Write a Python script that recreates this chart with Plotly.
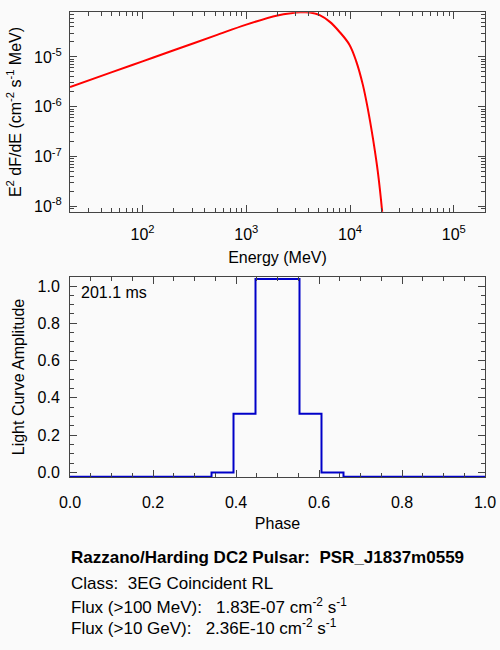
import plotly.graph_objects as go

# spectrum (MeV, MeV cm^-2 s^-1)
energy = [20, 50, 100, 200, 500, 1000, 2000, 2700, 3300, 4100, 5100,
          6350, 7900, 9900, 11500, 13300, 14800, 16600, 18500, 20400, 21500]
e2dfde = [2.48e-6, 4.9e-6, 8.15e-6, 1.36e-5, 2.67e-5, 4.45e-5, 6.8e-5,
          7.55e-5, 7.83e-5, 7.8e-5, 6.9e-5, 5.1e-5, 3.2e-5, 1.74e-5,
          8.05e-6, 2.75e-6, 9.4e-7, 2.37e-7, 5.1e-8, 8.0e-9, 2.2e-9]

energy_ticks = [1e2, 1e3, 1e4, 1e5]
energy_labels = ["10<sup>2</sup>", "10<sup>3</sup>", "10<sup>4</sup>", "10<sup>5</sup>"]
flux_ticks = [1e-8, 1e-7, 1e-6, 1e-5]
flux_labels = ["10<sup>-8</sup>", "10<sup>-7</sup>", "10<sup>-6</sup>", "10<sup>-5</sup>"]

# light curve steps (bin edges and levels)
phase = [0.0, 0.341, 0.394, 0.447, 0.553, 0.606, 0.659, 1.0]
amplitude = [-0.023, 0.0, 0.315, 1.037, 0.315, 0.0, -0.023, -0.023]

period_text = "201.1 ms"
info_lines = [
    "<b>Razzano/Harding DC2 Pulsar:\u00a0\u00a0PSR_J1837m0559</b>",
    "Class:\u00a0\u00a03EG Coincident RL",
    "Flux (>100 MeV):\u00a0\u00a0\u00a01.83E-07 cm<sup>-2</sup> s<sup>-1</sup>",
    "Flux (>10 GeV):\u00a0\u00a0\u00a02.36E-10 cm<sup>-2</sup> s<sup>-1</sup>",
]
info_y = [557, 583, 606, 627]

W, H = 500, 650
FONT = "Liberation Sans, Arial, Helvetica, sans-serif"
AX = "#444444"
BG = "#fafafa"

fig = go.Figure()

fig.add_trace(go.Scatter(x=energy, y=e2dfde, mode="lines",
                         line=dict(color="#ff0000", width=2, shape="spline"),
                         xaxis="x", yaxis="y", showlegend=False))
fig.add_trace(go.Scatter(x=phase, y=amplitude, mode="lines",
                         line=dict(color="#0000c8", width=2, shape="hv"),
                         xaxis="x2", yaxis="y2", showlegend=False))

common = dict(showline=True, linecolor=AX, linewidth=1, mirror="ticks",
              ticks="inside", tickcolor=AX, ticklen=7, showgrid=False,
              zeroline=False, automargin=False,
              tickfont=dict(size=16, color="black"),
              title_font=dict(size=16, color="black"))
minor_log = dict(ticks="inside", ticklen=4, tickcolor=AX, dtick="D1", showgrid=False)
minor_lin = dict(ticks="inside", ticklen=4, tickcolor=AX, dtick=0.05, showgrid=False)

fig.update_layout(
    width=W, height=H,
    margin=dict(l=0, r=0, t=0, b=0),
    paper_bgcolor=BG, plot_bgcolor=BG,
    font=dict(family=FONT, size=16, color="black"),
    xaxis=dict(common, domain=[70 / W, 485 / W], anchor="y", type="log",
               range=[1.301, 5.301], tickvals=energy_ticks,
               ticktext=energy_labels,
               minor=minor_log, ticklabelstandoff=8,
               title=dict(text="Energy (MeV)", standoff=9)),
    yaxis=dict(common, domain=[1 - 211.7 / H, 1 - 12.3 / H], anchor="x",
               type="log", range=[-8.105, -4.105], tickvals=flux_ticks,
               ticktext=flux_labels,
               minor=minor_log, ticklabelstandoff=4,
               title=dict(text="E<sup>2</sup> dF/dE (cm<sup>-2</sup> s<sup>-1</sup> MeV)",
                          standoff=8)),
    xaxis2=dict(common, domain=[70 / W, 485 / W], anchor="y2",
                range=[0, 1], dtick=0.2, tickformat=".1f",
                minor=minor_lin, ticklabelstandoff=10,
                title=dict(text="Phase", standoff=8)),
    yaxis2=dict(common, domain=[1 - 477.3 / H, 1 - 276.7 / H], anchor="x2",
                range=[-0.026, 1.05], dtick=0.2, tickformat=".1f",
                minor=minor_lin, ticklabelstandoff=6,
                title=dict(text="Light Curve Amplitude", standoff=8)),
)

fig.add_annotation(text=period_text, xref="paper", yref="paper",
                   x=79 / W, y=1 - 292 / H, xanchor="left", yanchor="middle",
                   showarrow=False, font=dict(size=16))

for line, yy in zip(info_lines, info_y):
    fig.add_annotation(text=line, xref="paper", yref="paper",
                       x=69 / W, y=1 - yy / H, xanchor="left", yanchor="middle",
                       showarrow=False, font=dict(size=17), align="left")

# the page has a default 8px body margin; drop it so the figure fills the window
fig.write_html("out.html", config={"displayModeBar": False},
               post_script="document.body.style.margin='0';")
